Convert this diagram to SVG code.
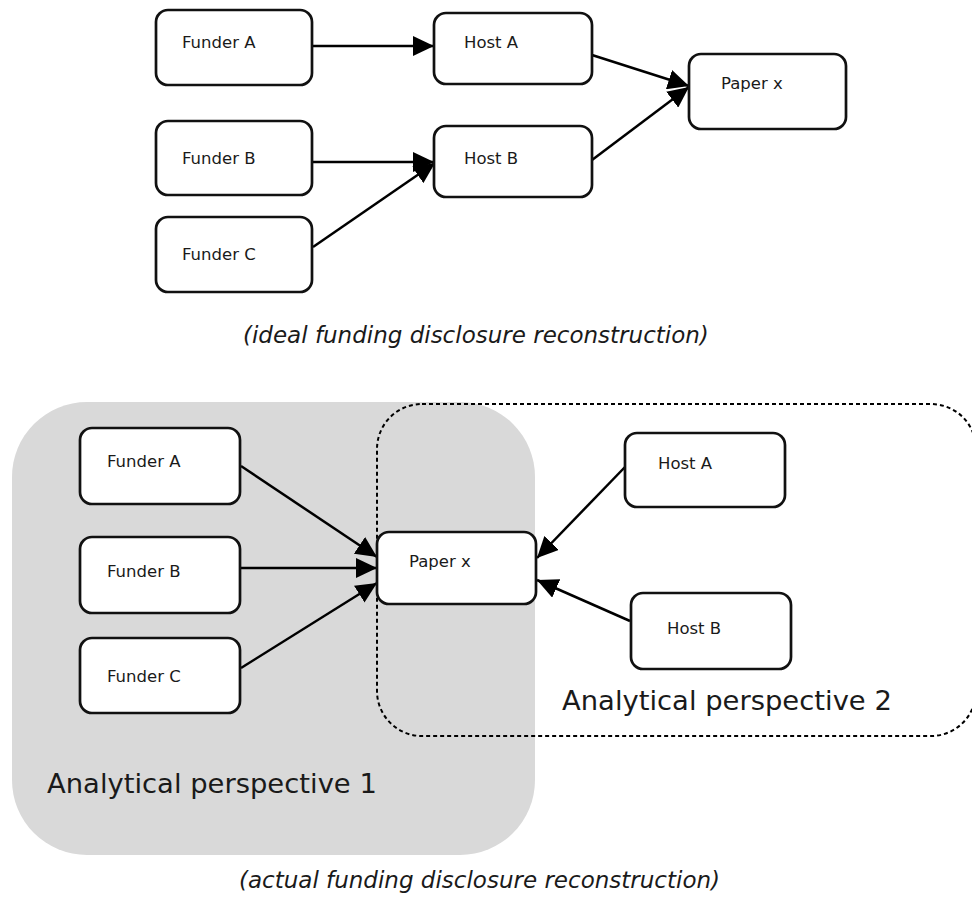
<svg xmlns="http://www.w3.org/2000/svg" width="972" height="900" viewBox="0 0 972 900">
<style>
.node rect{fill:#fff;stroke:#111;stroke-width:2.7}
.lbl{font-family:"DejaVu Sans",Verdana,sans-serif;font-size:16.5px;fill:#1a1a1a}
.big{font-family:"DejaVu Sans",Verdana,sans-serif;font-size:27.4px;fill:#1a1a1a}
.cap{font-family:"DejaVu Sans",Verdana,sans-serif;font-size:23px;font-style:italic;fill:#1a1a1a}
.conn line{stroke:#000;stroke-width:2.5;fill:none;marker-end:url(#ah)}
</style>
<defs>
<marker id="ah" markerUnits="userSpaceOnUse" markerWidth="21" markerHeight="20" refX="21" refY="10" orient="auto">
<path d="M0,0 L21,10 L0,20 z" fill="#000"/>
</marker>
</defs>
<rect width="972" height="900" fill="#fff"/>

<!-- Top diagram -->
<g id="top-connectors" class="conn">
<line x1="312" y1="46" x2="434" y2="46"/>
<line x1="312" y1="162" x2="434" y2="162"/>
<line x1="313" y1="247" x2="435" y2="163"/>
<line x1="592" y1="55" x2="689" y2="86"/>
<line x1="592" y1="160" x2="689" y2="87"/>
</g>
<g id="t-funderA" class="node"><rect x="156" y="10" width="156" height="75" rx="12"/><text class="lbl" x="182" y="48">Funder A</text></g>
<g id="t-funderB" class="node"><rect x="156" y="121" width="156" height="74" rx="12"/><text class="lbl" x="182" y="164">Funder B</text></g>
<g id="t-funderC" class="node"><rect x="156" y="217" width="156" height="75" rx="12"/><text class="lbl" x="182" y="260">Funder C</text></g>
<g id="t-hostA" class="node"><rect x="434" y="13" width="158" height="71" rx="12"/><text class="lbl" x="464" y="48">Host A</text></g>
<g id="t-hostB" class="node"><rect x="434" y="126" width="158" height="71" rx="12"/><text class="lbl" x="464" y="164">Host B</text></g>
<g id="t-paper" class="node"><rect x="689" y="54" width="157" height="75" rx="12"/><text class="lbl" x="721" y="89">Paper x</text></g>
<text class="cap" x="243" y="343">(ideal funding disclosure reconstruction)</text>

<!-- Bottom diagram -->
<g id="perspective1">
<rect x="12" y="402" width="523" height="453" rx="75" fill="#d9d9d9"/>
<text class="big" x="47" y="793">Analytical perspective 1</text>
</g>
<g id="perspective2">
<rect x="377" y="404" width="599" height="332" rx="45" fill="none" stroke="#000" stroke-width="2" stroke-dasharray="4,3"/>
<text class="big" x="562" y="710">Analytical perspective 2</text>
</g>
<g id="bottom-connectors" class="conn">
<line x1="241" y1="466" x2="377" y2="557"/>
<line x1="241" y1="568" x2="377" y2="568"/>
<line x1="241" y1="668" x2="377" y2="583"/>
<line x1="625" y1="467" x2="537" y2="558"/>
<line x1="630" y1="621" x2="537" y2="580"/>
</g>
<g id="b-funderA" class="node"><rect x="80" y="428" width="160" height="76" rx="12"/><text class="lbl" x="107" y="467">Funder A</text></g>
<g id="b-funderB" class="node"><rect x="80" y="537" width="160" height="76" rx="12"/><text class="lbl" x="107" y="577">Funder B</text></g>
<g id="b-funderC" class="node"><rect x="80" y="638" width="160" height="75" rx="12"/><text class="lbl" x="107" y="682">Funder C</text></g>
<g id="b-paper" class="node"><rect x="377" y="532" width="159" height="72" rx="12"/><text class="lbl" x="409" y="567">Paper x</text></g>
<g id="b-hostA" class="node"><rect x="625" y="433" width="160" height="74" rx="12"/><text class="lbl" x="658" y="469">Host A</text></g>
<g id="b-hostB" class="node"><rect x="631" y="593" width="160" height="76" rx="12"/><text class="lbl" x="667" y="634">Host B</text></g>
<text class="cap" x="239" y="888">(actual funding disclosure reconstruction)</text>
</svg>
